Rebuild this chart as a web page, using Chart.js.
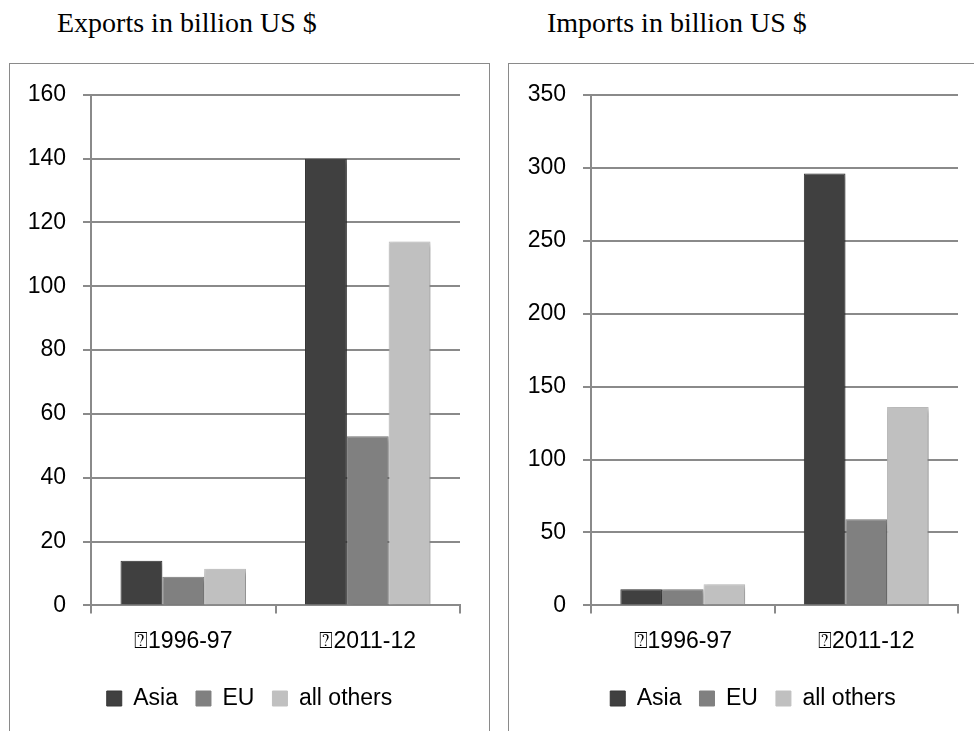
<!DOCTYPE html>
<html>
<head>
<meta charset="utf-8">
<script src="https://cdn.jsdelivr.net/npm/chart.js@4.4.1/dist/chart.umd.min.js"></script>
<style>
  body { margin: 0; background: #fff; width: 974px; height: 731px; overflow: hidden; position: relative; }
  .title { position: absolute; top: 8px; line-height: 30px; font-family: "Liberation Serif", serif; font-size: 28px; color: #000; white-space: nowrap; }
  .box { position: absolute; top: 63px; height: 720px; border: 1px solid #8a8a8a; border-bottom: none; }
  .box canvas { position: absolute; left: 0; top: 0; }
</style>
</head>
<body>
<div class="title" style="left:57px">Exports in billion US $</div>
<div class="title" style="left:547px">Imports in billion US $</div>
<div class="box" style="left:9px;width:479px"><canvas id="exportsChart"></canvas></div>
<div class="box" style="left:508px;width:488px"><canvas id="importsChart"></canvas></div>
<script>
const categories = ['\u23701996-97', '\u23702011-12'];
const seriesNames = ['Asia', 'EU', 'all others'];
const seriesColors = ['#404040', '#808080', '#c0c0c0'];

// exports, billion US $
const exportsAsia = [14, 140];
const exportsEU = [9, 53];
const exportsOthers = [11.5, 114];

// imports, billion US $
const importsAsia = [11, 296];
const importsEU = [11, 59];
const importsOthers = [14.5, 136];

const FONT = { family: '"Liberation Sans", "DejaVu Sans", sans-serif', size: 23 };
const GRID = '#8a8a8a';

// soft excel-like shadow behind bars
const barShadow = {
  id: 'barShadow',
  beforeDatasetsDraw(chart) {
    const ctx = chart.ctx;
    ctx.save();
    ctx.shadowColor = 'rgba(0,0,0,0.35)';
    ctx.shadowBlur = 5;
    ctx.shadowOffsetX = 2;
    ctx.shadowOffsetY = 2;
  },
  afterDatasetsDraw(chart) {
    chart.ctx.restore();
  }
};

function makeChart(id, w, values, maxY, step, yWidth, rightGap) {
  const canvas = document.getElementById(id);
  canvas.width = w;
  canvas.height = 667;
  canvas.style.width = w + 'px';
  canvas.style.height = '667px';
  return new Chart(canvas, {
    type: 'bar',
    data: {
      labels: categories,
      datasets: values.map((v, i) => ({
        label: seriesNames[i],
        data: v,
        backgroundColor: seriesColors[i],
        borderColor: i === 0 ? '#363636' : seriesColors[i],
        borderWidth: 1,
        categoryPercentage: 0.68,
        barPercentage: 1.0
      }))
    },
    options: {
      responsive: false,
      animation: false,
      layout: { padding: { top: 30, right: 0, left: 0, bottom: 11 } },
      plugins: {
        tooltip: { enabled: false },
        legend: {
          position: 'bottom',
          labels: {
            boxWidth: 15,
            boxHeight: 15,
            padding: 18,
            color: '#000',
            font: FONT
          }
        }
      },
      scales: {
        x: {
          grid: { drawOnChartArea: false, drawTicks: true, tickLength: 8, color: GRID, lineWidth: 2 },
          border: { color: GRID, width: 2 },
          ticks: { color: '#000', font: FONT, padding: 14, maxRotation: 0 }
        },
        y: {
          min: 0,
          max: maxY,
          grid: { color: GRID, lineWidth: 2, tickLength: 8 },
          border: { color: GRID, width: 2 },
          ticks: { stepSize: step, color: '#000', font: FONT, padding: 17 },
          afterFit(s) { s.width = yWidth; }
        },
        // empty space on the right so the legend stays centred in the box
        gap: {
          position: 'right',
          grid: { display: false },
          border: { display: false },
          ticks: { display: false },
          afterFit(s) { s.width = rightGap; }
        }
      }
    },
    plugins: [barShadow]
  });
}

makeChart('exportsChart', 479, [exportsAsia, exportsEU, exportsOthers], 160, 20, 81, 29);
makeChart('importsChart', 488, [importsAsia, importsEU, importsOthers], 350, 50, 82, 39);
</script>
</body>
</html>
